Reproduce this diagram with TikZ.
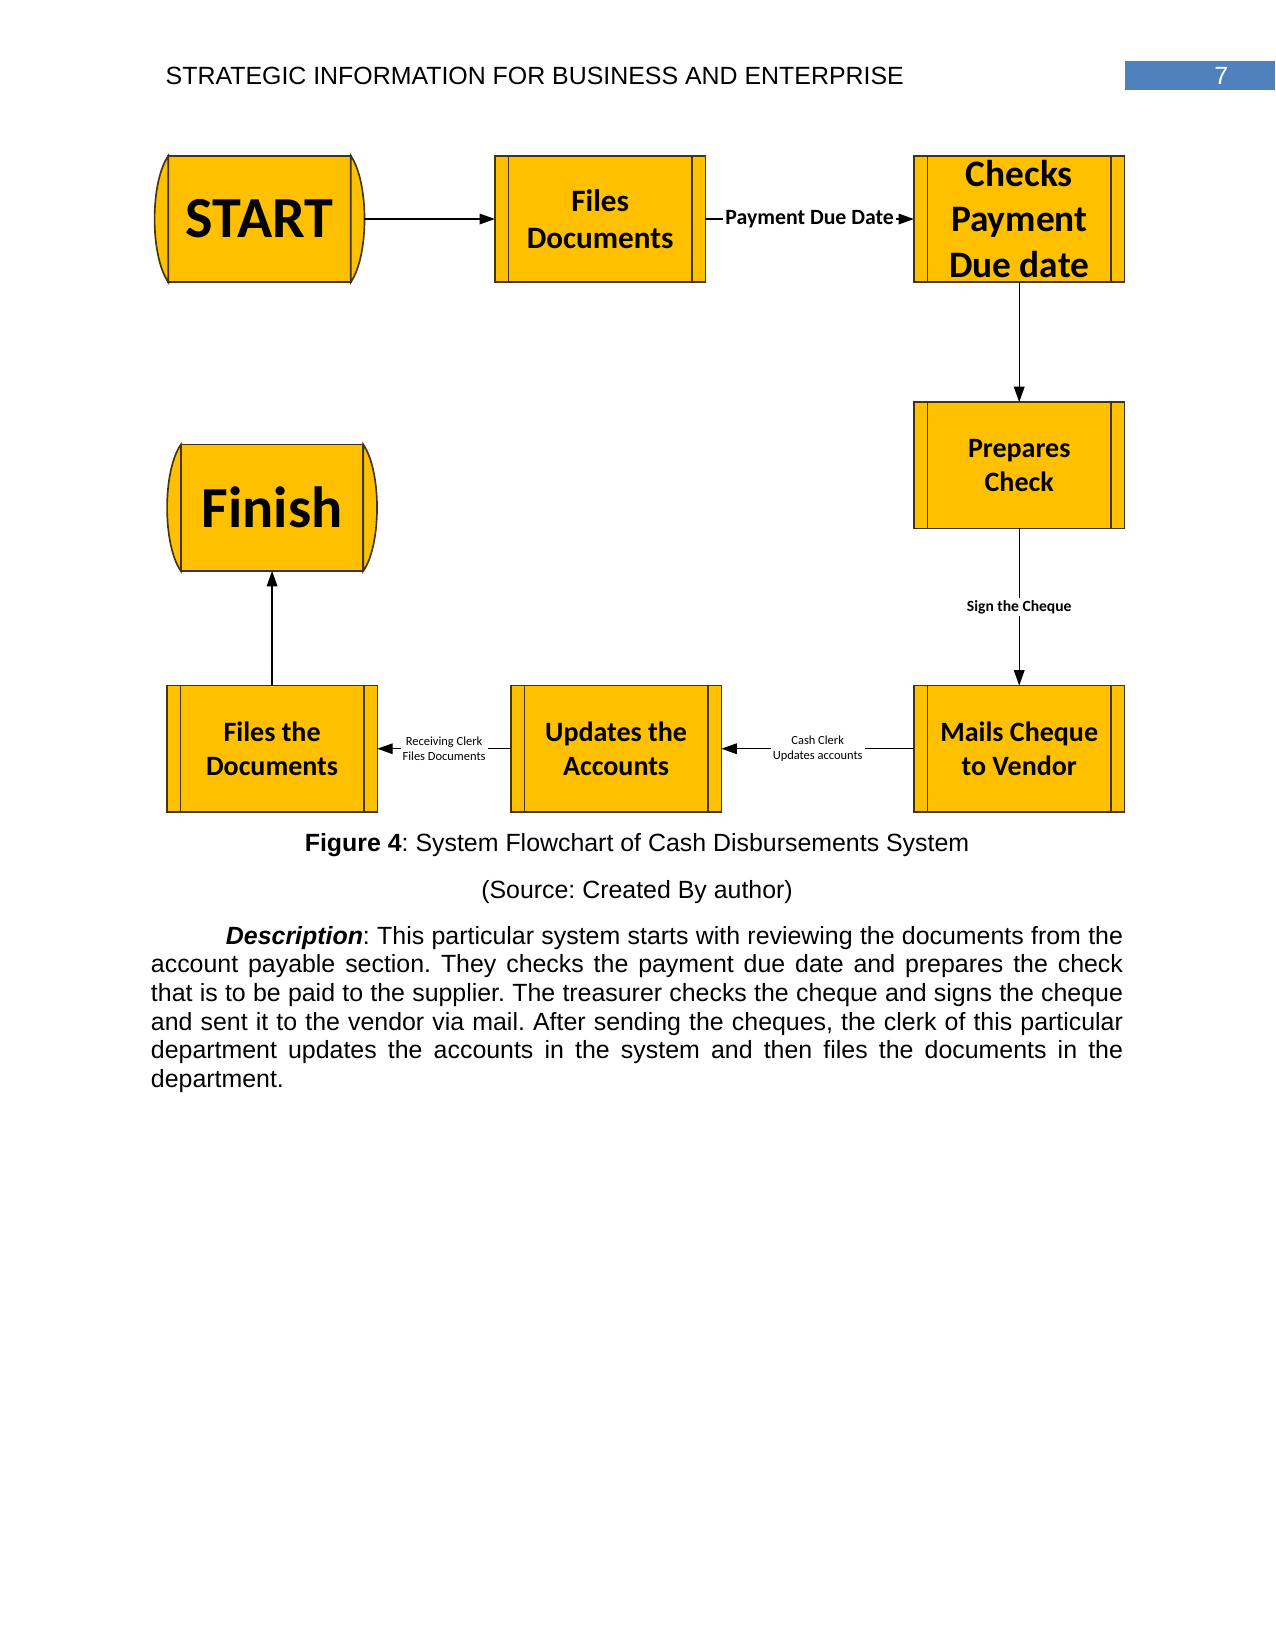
\documentclass[tikz,border=0pt]{standalone}
\usepackage{fontspec}
\setmainfont{Liberation Sans}
\newfontfamily\flowfont{Carlito}
\usetikzlibrary{arrows.meta,positioning}
\definecolor{gold}{RGB}{255,192,0}
\definecolor{rim}{RGB}{66,54,18}
\definecolor{pageblue}{RGB}{79,129,189}
\newcommand\fsz[2]{\fontsize{#1}{#2}\selectfont}
\newcommand\bodyfont{\fsz{12}{13.85}\frenchspacing\hyphenpenalty=10000\relax}
\frenchspacing
\tikzset{
  proc/.style={draw=rim,fill=gold,line width=0.8pt,minimum width=35.66mm,
               minimum height=21.4mm,inner sep=1pt,outer sep=0pt,align=center,
               font=\flowfont\bfseries\fsz{13.5}{16.2},
               path picture={\draw[rim,line width=0.8pt]
                 ([xshift=2.3mm]path picture bounding box.north west) --
                 ([xshift=2.3mm]path picture bounding box.south west)
                 ([xshift=-2.3mm]path picture bounding box.north east) --
                 ([xshift=-2.3mm]path picture bounding box.south east);}},
  bulge/.style={draw=rim,fill=gold,line width=0.8pt,
                to path={(\tikztostart) .. controls +(#1,-4.5mm) and +(#1,4.5mm)
                         .. (\tikztotarget) -- cycle}},
  term/.style={draw=rim,fill=gold,line width=0.8pt,minimum width=30.9mm,
               minimum height=21.4mm,inner sep=1pt,outer sep=0pt,
               font=\flowfont\bfseries\fsz{28}{30},
               append after command={
                 (\tikzlastnode.north east) edge[bulge=3.1mm] (\tikzlastnode.south east)
                 (\tikzlastnode.north west) edge[bulge=-3.1mm] (\tikzlastnode.south west)}},
  arr/.style={-{Triangle[length=2.6mm,width=1.8mm]},line width=0.6pt,draw=black},
  lbl/.style={fill=white,inner sep=1pt,align=center,font=\flowfont\bfseries},
  tiny/.style={lbl,font=\flowfont\fsz{6}{7}},
  plain/.style={inner sep=0pt,font=\fsz{12}{14}},
}
\begin{document}
\begin{tikzpicture}[x=0.1783mm,y=-0.1783mm]
  \useasboundingbox (0,0) rectangle (1211,1568);
  \node[plain,anchor=base west] (head) at (157,80.5)
    {STRATEGIC INFORMATION FOR BUSINESS AND ENTERPRISE};
  \fill[pageblue] (1068,58) rectangle (1211,85);
  \node[plain,anchor=base,text=white] (pgnum) at (1160,80.5) {7};

  \node[term] (start) at (246.5,208) {START};
  \node[proc,right=24.4mm of start,font=\flowfont\bfseries\fsz{15}{18}] (files)
    {Files\\Documents};
  \node[proc,right=35.3mm of files,font=\flowfont\bfseries\fsz{18}{22}] (checks)
    {Checks\\Payment\\Due date};
  \node[proc,below=20.3mm of checks] (prep) {Prepares\\Check};
  \node[proc,below=26.6mm of prep] (mails) {Mails Cheque\\to Vendor};
  \node[proc,left=32.6mm of mails] (upd) {Updates the\\Accounts};
  \node[proc,left=22.6mm of upd] (fdoc) {Files the\\Documents};
  \node[term,above=19.4mm of fdoc] (finish) {Finish};

  \draw[arr] ([xshift=2.3mm]start.east) -- (files);
  \draw[arr] (files) -- node[lbl,font=\flowfont\bfseries\fsz{10.5}{12}]
    {Payment Due Date} (checks);
  \draw[arr] (checks) -- (prep);
  \draw[arr] (prep) -- node[lbl,font=\flowfont\bfseries\fsz{7.5}{9}]
    {Sign the Cheque} (mails);
  \draw[arr] (mails) -- node[tiny] {Cash Clerk\\Updates accounts} (upd);
  \draw[arr] (upd) -- node[tiny] {Receiving Clerk\\Files Documents} (fdoc);
  \draw[arr] (fdoc) -- (finish);

  \node[plain,anchor=base] (cap) at (605,809)
    {\textbf{Figure 4}: System Flowchart of Cash Disbursements System};
  \node[plain,anchor=base] (src) at (605,853)
    {(Source: Created By author)};
  \node[anchor=north west,text width=164.6mm,align=justify,inner sep=0pt,
        font=\bodyfont] (desc) at (143,879)
    {\hspace*{12.7mm}\textbf{\textit{Description}}: This particular system starts
     with reviewing the documents from the\linebreak account payable section. They
     checks the payment due date and prepares the check\linebreak that is to be paid
     to the supplier. The treasurer checks the cheque and signs the cheque\linebreak
     and sent it to the vendor via mail. After sending the cheques, the clerk of this
     particular\linebreak department updates the accounts in the system and then
     files the documents in the\linebreak department.};
\end{tikzpicture}
\end{document}
